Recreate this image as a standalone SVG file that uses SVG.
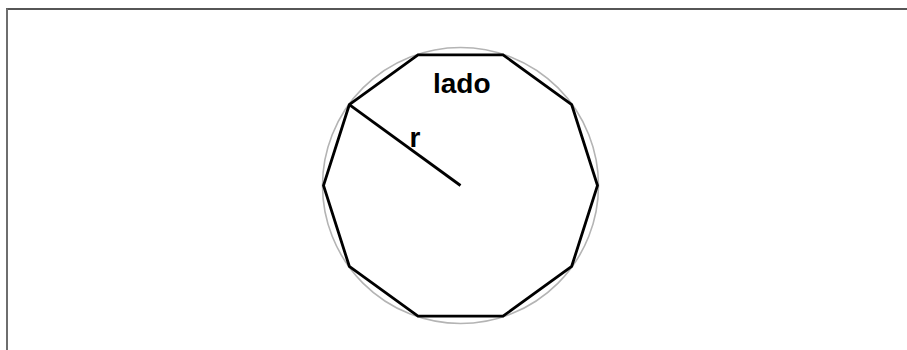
<svg xmlns="http://www.w3.org/2000/svg" width="907" height="350" viewBox="0 0 907 350">
<style>
.frame-top{stroke:#1e1e1e;stroke-width:1.6;fill:none}
.frame-left{stroke:#6e6e6e;stroke-width:2;fill:none}
.circ{fill:none;stroke:#b4b4b4;stroke-width:1.6}
.poly{fill:none;stroke:#000;stroke-width:2.8;stroke-linejoin:miter}
.lbl{font-family:"Liberation Sans",Arial,sans-serif;font-weight:bold;font-size:28px;fill:#000}
</style>
<rect width="907" height="350" fill="#fff"/>
<g id="frame">
<line class="frame-top" x1="6" y1="9" x2="907" y2="9"/>
<line class="frame-left" x1="7" y1="8.5" x2="7" y2="350"/>
</g>
<g id="circle">
<circle class="circ" cx="460.5" cy="185.5" r="138"/>
</g>
<g id="decagon">
<polygon class="poly" points="597.5,185.5 571.7,104.7 503,54.8 418,54.8 349.3,104.7 323.5,185.5 349.3,266.3 418,316.2 503,316.2 571.7,266.3"/>
</g>
<g id="connectors">
<line x1="349.3" y1="104.7" x2="460.5" y2="185.5" stroke="#000" stroke-width="2.8"/>
</g>
<g id="labels">
<text class="lbl" x="433" y="92.5">lado</text>
<text class="lbl" x="409.5" y="146.5">r</text>
</g>
</svg>
